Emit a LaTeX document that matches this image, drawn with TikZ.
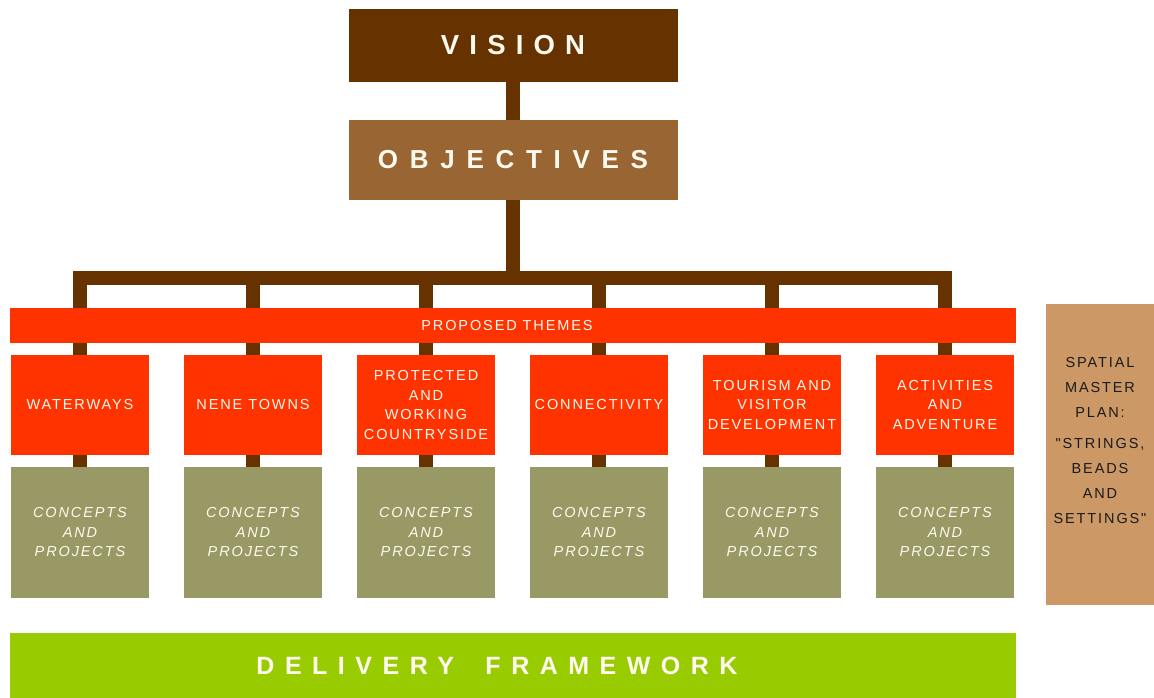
\documentclass[tikz,border=0pt]{standalone}
\usepackage{fontspec}
\setmainfont{Liberation Sans}[Ligatures=TeXOff]
\usetikzlibrary{backgrounds}
\definecolor{dbrown}{HTML}{663300}
\definecolor{mbrown}{HTML}{996633}
\definecolor{tred}{HTML}{FF3300}
\definecolor{olivebox}{HTML}{999966}
\definecolor{tanbox}{HTML}{CC9966}
\definecolor{greenbox}{HTML}{99CC00}
\definecolor{darktext}{HTML}{1A1A1A}
\definecolor{lighttext}{HTML}{FFFAF0}
\begin{document}
\begin{tikzpicture}[x=1pt,y=-1pt,
  box/.style={rectangle, inner sep=0pt, align=center, text=lighttext},
  smallfont/.style={font=\fontsize{14.5}{19.5}\selectfont\addfontfeature{LetterSpace=13}},
  theme/.style={box, smallfont, fill=tred, minimum width=138pt, minimum height=100pt},
  concept/.style={box, fill=olivebox, minimum width=138pt, minimum height=131pt,
    font=\fontsize{14.5}{19.5}\selectfont\itshape\addfontfeature{LetterSpace=13}},
  conn/.style={draw=dbrown, line width=13.5pt, line join=miter}
]
\useasboundingbox (0,0) rectangle (1154,698);

\node[box, fill=dbrown, minimum width=329pt, minimum height=73pt,
  font=\fontsize{27.5}{30}\selectfont\bfseries\addfontfeature{LetterSpace=37}]
  (vision) at (513,45.5) {VISION};
\node[box, fill=mbrown, minimum width=329pt, minimum height=80pt,
  font=\fontsize{26}{30}\selectfont\bfseries\addfontfeature{LetterSpace=45}]
  (obj) at (513,160) {OBJECTIVES};

\node[box, smallfont, fill=tred, minimum width=1006pt, minimum height=35pt]
  (themes) at (513,325.5) {PROPOSED THEMES\hspace*{12pt}};

\foreach \i/\x/\t in {1/80/{WATERWAYS},
                      2/253/{NENE TOWNS},
                      3/426/{PROTECTED\\AND\\WORKING\\COUNTRYSIDE},
                      4/599/{CONNECTIVITY},
                      5/772/{TOURISM AND\\VISITOR\\DEVELOPMENT},
                      6/945/{ACTIVITIES\\AND\\ADVENTURE}}{
  \node[theme] (t\i) at (\x,405) {\t};
  \node[concept] (c\i) at (\x,532.5) {CONCEPTS\\AND\\PROJECTS};
}

\node[box, fill=tanbox, minimum width=108pt, minimum height=301pt]
  (spatial) at (1100,454.5) {};
\node[box, text=darktext, font=\fontsize{14.5}{25}\selectfont\addfontfeature{LetterSpace=13}]
  (spatialtxt) at (1100,441) {SPATIAL\\MASTER\\PLAN:\\[6pt]"STRINGS,\\BEADS\\AND\\SETTINGS"};

\node[box, fill=greenbox, minimum width=1006pt, minimum height=65pt,
  font=\fontsize{25}{30}\selectfont\bfseries\addfontfeature{LetterSpace=42}]
  (delivery) at (513,665.5) {DELIVERY\hspace*{14pt} FRAMEWORK\hspace*{32pt}};

\begin{pgfonlayer}{background}
  \coordinate (hb) at (513,278);
  \draw[conn] (vision.center) -- (obj.center);
  \draw[conn] (obj.center) -- (hb);
  \draw[conn] (c1.north) |- (hb) -| (c6.north);
  \foreach \i in {2,...,5}{
    \draw[conn] (c\i.north) -- (c\i.north |- hb);
  }
\end{pgfonlayer}
\end{tikzpicture}
\end{document}
